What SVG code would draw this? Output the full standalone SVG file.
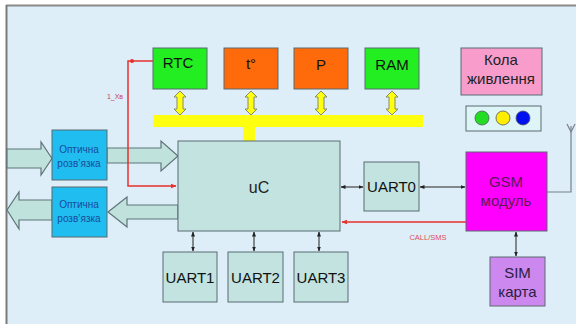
<svg xmlns="http://www.w3.org/2000/svg" width="580" height="324" viewBox="0 0 580 324">
<defs>
<style>
.t{font-family:"Liberation Sans",Arial,sans-serif;text-anchor:middle}
.box{stroke:#5a6a70;stroke-width:1}
.teal{fill:#c2e3e0}
.ya{fill:#ffff10;stroke:#8a8a60;stroke-width:1}
.big{fill:#c0e2dc;stroke:#5f7478;stroke-width:1.2}
.bl{stroke:#222;stroke-width:1;fill:none}
.red{stroke:#e8302c;stroke-width:1.5;fill:none}
</style>
<marker id="ah" viewBox="0 0 10 10" refX="9" refY="5" markerWidth="5" markerHeight="5" orient="auto-start-reverse"><path d="M0,1 L10,5 L0,9 Z" fill="#222"/></marker>
<marker id="rh" viewBox="0 0 10 10" refX="9" refY="5" markerWidth="4" markerHeight="4" orient="auto"><path d="M0,1 L10,5 L0,9 Z" fill="#e8302c"/></marker>
</defs>
<rect x="0" y="0" width="580" height="324" fill="#ffffff"/>
<rect x="6" y="5" width="570" height="319" fill="#ddeef8"/>
<line x1="6" y1="5.5" x2="576" y2="5.5" stroke="#8a8a8a" stroke-width="2"/>
<line x1="6.5" y1="5" x2="6.5" y2="324" stroke="#7a7a7a" stroke-width="2"/>

<g id="bus">
<rect x="153" y="115" width="270" height="12" fill="#ffff10"/>
<rect x="243" y="126" width="12" height="15" fill="#ffff10"/>
</g>

<g id="connectors">
<polygon class="ya" points="180,91 186,97 183,97 183,109 186,109 180,115 174,109 177,109 177,97 174,97"/>
<polygon class="ya" points="251,91 257,97 254,97 254,109 257,109 251,115 245,109 248,109 248,97 245,97"/>
<polygon class="ya" points="321,91 327,97 324,97 324,109 327,109 321,115 315,109 318,109 318,97 315,97"/>
<polygon class="ya" points="392,91 398,97 395,97 395,109 398,109 392,115 386,109 389,109 389,97 386,97"/>
<polygon class="big" points="7,149 41,149 41,142 52,158.5 41,175 41,168 7,168"/>
<polygon class="big" points="107,148 161,148 161,141 178,156 161,171 161,163 107,163"/>
<polygon class="big" points="178,205 127,205 127,197 108,212 127,227 127,219 178,219"/>
<polygon class="big" points="52,200 19,200 19,192 7,210 19,229 19,220 52,220"/>
<polyline class="red" points="153,61 128,61 128,186 176,186" marker-end="url(#rh)"/>
<circle cx="132" cy="61" r="2" fill="#e8302c"/>
<line class="red" x1="466" y1="222" x2="342" y2="222" marker-end="url(#rh)"/>
<line class="bl" x1="341" y1="187" x2="363" y2="187" marker-start="url(#ah)" marker-end="url(#ah)"/>
<line class="bl" x1="420" y1="187" x2="465" y2="187" marker-start="url(#ah)" marker-end="url(#ah)"/>
<line class="bl" x1="193" y1="232" x2="193" y2="251" marker-start="url(#ah)" marker-end="url(#ah)"/>
<line class="bl" x1="254" y1="232" x2="254" y2="251" marker-start="url(#ah)" marker-end="url(#ah)"/>
<line class="bl" x1="319" y1="232" x2="319" y2="251" marker-start="url(#ah)" marker-end="url(#ah)"/>
<line class="bl" x1="516" y1="232" x2="516" y2="256" marker-start="url(#ah)" marker-end="url(#ah)"/>
<polyline points="547,192 571,192 571,126" fill="none" stroke="#7a8088" stroke-width="1.2"/>
<polyline points="567,124 571,132 575,124" fill="none" stroke="#7a8088" stroke-width="1.2"/>
<text class="t" x="115" y="99" font-size="7" fill="#d04060">1_Хв</text>
<text class="t" x="428" y="240" font-size="7.5" fill="#e0505a">CALL/SMS</text>
</g>

<g id="rtc"><rect class="box" x="153" y="48" width="54" height="41" fill="#22ee22"/><text class="t" x="178" y="68" font-size="15" fill="#111">RTC</text></g>
<g id="temp"><rect class="box" x="224" y="48" width="54" height="41" fill="#ff6a0a"/><text class="t" x="251" y="69" font-size="15" fill="#111">t°</text></g>
<g id="p"><rect class="box" x="294" y="48" width="54" height="41" fill="#ff6a0a"/><text class="t" x="321" y="70" font-size="15" fill="#111">P</text></g>
<g id="ram"><rect class="box" x="365" y="48" width="54" height="41" fill="#22ee22"/><text class="t" x="392" y="70" font-size="15" fill="#111">RAM</text></g>
<g id="power"><rect class="box" x="461" y="48" width="81" height="47" fill="#f79ccb"/><text class="t" x="501" y="65" font-size="15" fill="#222">Кола</text><text class="t" x="501" y="84" font-size="15" fill="#222">живлення</text></g>
<g id="leds"><rect class="box" x="466" y="106" width="75" height="25" fill="#ddf5f7"/>
<circle cx="482" cy="118" r="7" fill="#22dd22" stroke="#556" stroke-width="0.8"/>
<circle cx="503" cy="118" r="7" fill="#ffee00" stroke="#556" stroke-width="0.8"/>
<circle cx="523" cy="118" r="7" fill="#0010ee" stroke="#556" stroke-width="0.8"/></g>
<g id="opto1"><rect class="box" x="52" y="130" width="55" height="50" fill="#1fbdf0"/><text class="t" x="79" y="153" font-size="10" fill="#1a4c9a">Оптична</text><text class="t" x="79" y="167" font-size="10" fill="#1a4c9a">розв’язка</text></g>
<g id="opto2"><rect class="box" x="52" y="187" width="55" height="50" fill="#1fbdf0"/><text class="t" x="79" y="208" font-size="10" fill="#1a4c9a">Оптична</text><text class="t" x="79" y="222" font-size="10" fill="#1a4c9a">розв’язка</text></g>
<g id="uc"><rect class="box teal" x="178" y="141" width="162" height="90"/><text class="t" x="259" y="193" font-size="16" fill="#222">uC</text></g>
<g id="uart0"><rect class="box teal" x="364" y="162" width="55" height="49"/><text class="t" x="391.5" y="192" font-size="15" fill="#111">UART0</text></g>
<g id="gsm"><rect class="box" x="466" y="152" width="81" height="79" fill="#ff00ff"/><text class="t" x="506" y="187" font-size="15" fill="#5a1a5a">GSM</text><text class="t" x="506" y="206" font-size="15" fill="#5a1a5a">модуль</text></g>
<g id="uart1"><rect class="box teal" x="163" y="252" width="54" height="50"/><text class="t" x="190" y="283" font-size="15" fill="#111">UART1</text></g>
<g id="uart2"><rect class="box teal" x="228" y="252" width="55" height="50"/><text class="t" x="255.5" y="283" font-size="15" fill="#111">UART2</text></g>
<g id="uart3"><rect class="box teal" x="294" y="252" width="54" height="50"/><text class="t" x="321" y="283" font-size="15" fill="#111">UART3</text></g>
<g id="sim"><rect class="box" x="490" y="257" width="55" height="49" fill="#cc88ee"/><text class="t" x="517.5" y="278" font-size="15" fill="#2a2040">SIM</text><text class="t" x="517.5" y="297" font-size="15" fill="#2a2040">карта</text></g>
</svg>
